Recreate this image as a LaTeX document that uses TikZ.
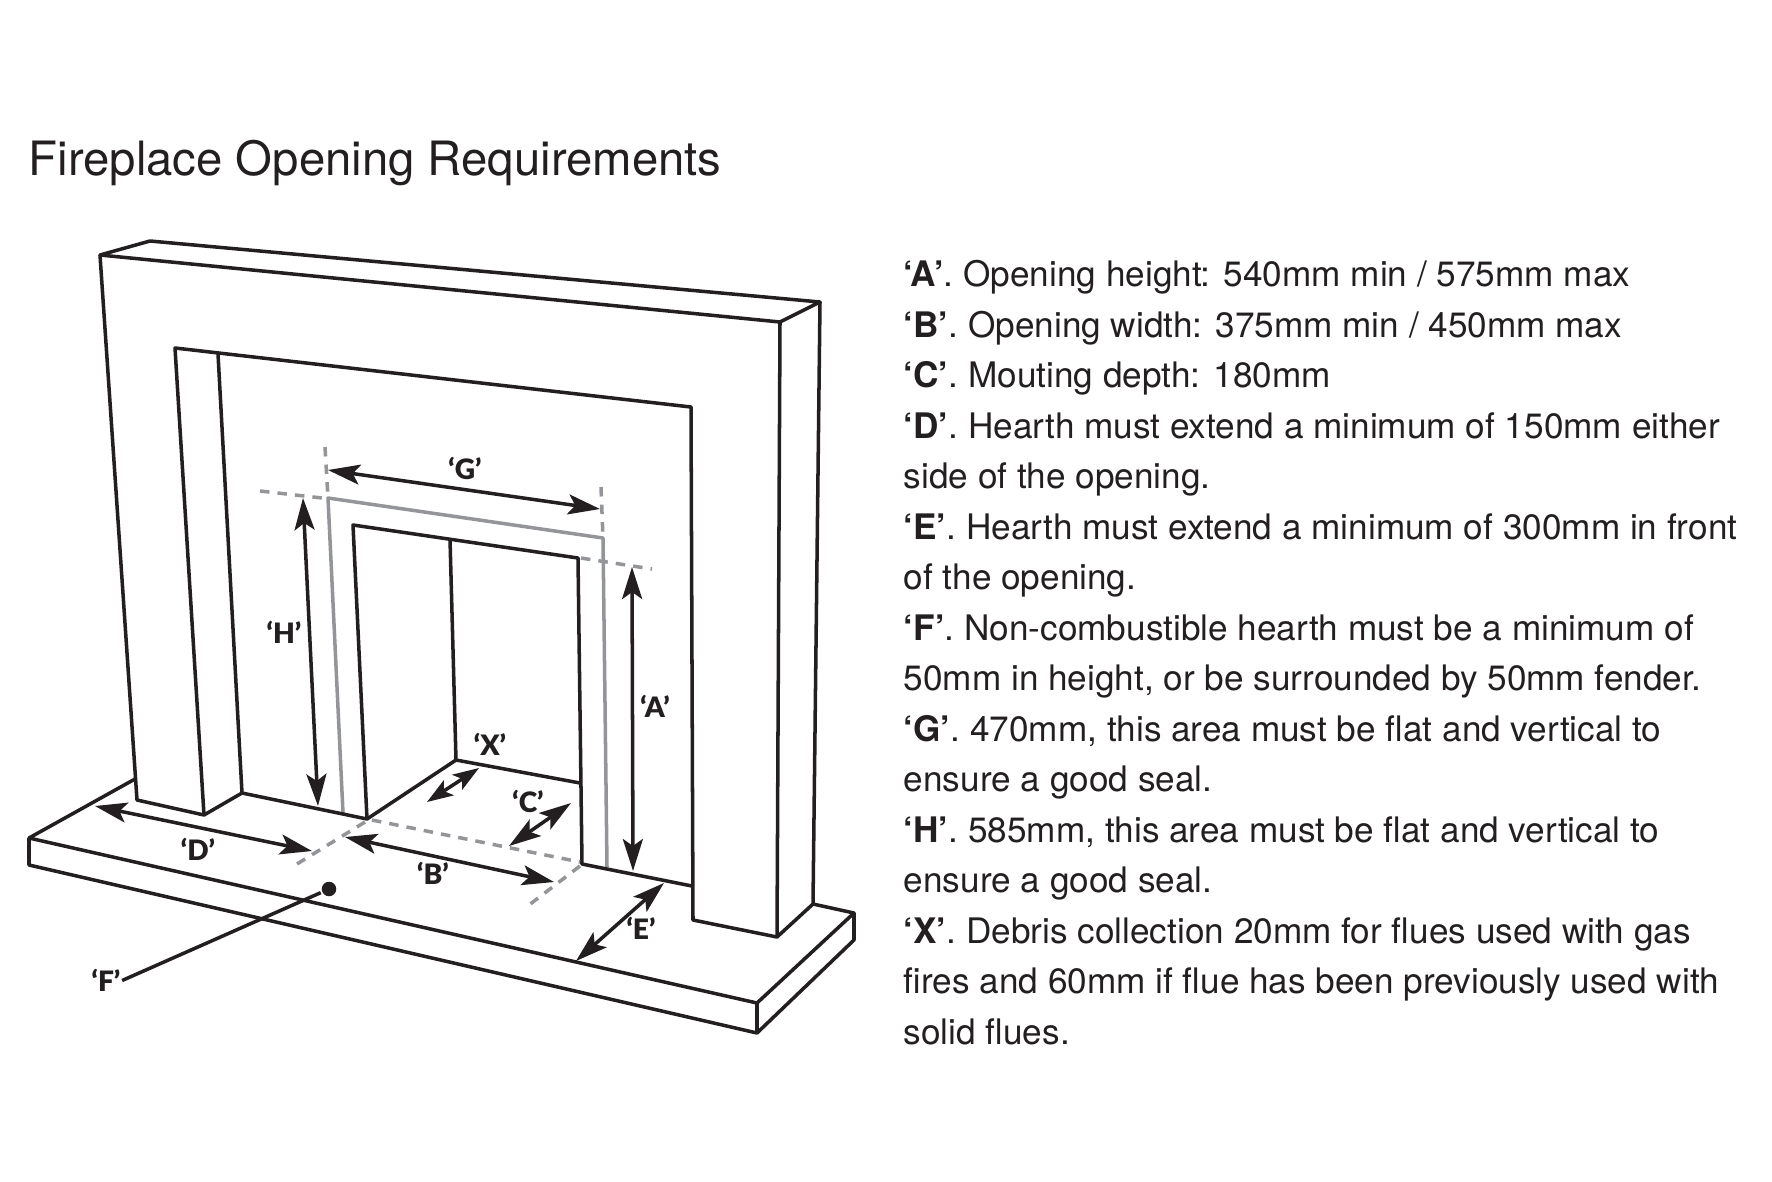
\documentclass[tikz,border=0pt]{standalone}
\usepackage{fontspec}
\usepackage{tikz}
\usetikzlibrary{arrows.meta}
\setmainfont{TeX Gyre Heros}
\newfontfamily\dimfont{Lato Black}
\definecolor{inkblack}{HTML}{231F20}
\definecolor{guidegrey}{HTML}{939598}
\tikzset{
  titletext/.style={anchor=base west,inner sep=0pt,text=inkblack,font=\fontsize{13.45pt}{16pt}\selectfont},
  reqtext/.style={anchor=base west,inner sep=0pt,text=inkblack,font=\fontsize{10pt}{14pt}\selectfont},
  dimtext/.style={inner sep=0pt,text=inkblack,font=\dimfont\fontsize{8pt}{10pt}\selectfont},
  guide/.style={guidegrey},
  guidedash/.style={guidegrey,dash pattern=on 2.7pt off 2.3pt},
  dimline/.style={inkblack,<->},
  shortdim/.style={inkblack,{Stealth[length=0.26cm,width=0.18cm,inset=0.06cm]}-{Stealth[length=0.26cm,width=0.18cm,inset=0.06cm]}},
  leaderdot/.style={circle,fill=inkblack,inner sep=0pt,minimum size=0.145cm}
}

\begin{document}
\begin{tikzpicture}[x=0.01cm,y=-0.01cm,line width=1pt,line join=round,>={Stealth[length=0.32cm,width=0.2cm,inset=0.07cm]}]
\useasboundingbox (0,0) rectangle (1772,1181);

\node[titletext] (title) at (27,175) {Fireplace Opening Requirements};

\draw[inkblack] (100,255) -- (150,241) -- (820,302) -- (780,322) -- cycle;
\draw[inkblack] (100,255) -- (137,800) -- (204,815) -- (175,348) -- (691,407) -- (693,920) -- (777,937) -- (780,322);
\draw[inkblack] (777,937) -- (813,904) -- (820,302);
\draw[inkblack] (204,815) -- (242,793) -- (218,354);

\draw[inkblack] (135,779) -- (29,838) -- (757,1003) -- (854,913) -- (813,904);
\draw[inkblack] (29,838) -- (29,865) -- (757,1033) -- (854,940) -- (854,913);
\draw[inkblack] (757,1003) -- (757,1033);

\draw[guide] (343,813) -- (328,498) -- (603,538) -- (607,867);

\draw[inkblack] (242,793) -- (367,819) -- (353,525) -- (578,558) -- (582,864) -- (692,886);
\draw[inkblack] (450,539) -- (456,760);
\draw[inkblack] (367,819) -- (456,760) -- (580,783);

\draw[guidedash] (325,447) -- (328,498);
\draw[guidedash] (601,487) -- (603,538);
\draw[guidedash] (260,491) -- (322,498);
\draw[guidedash] (581,558) -- (652,569);
\draw[guidedash] (372,820) -- (580,862);
\draw[guidedash] (365,822) -- (297,864);
\draw[guidedash] (580,866) -- (529,905);

\draw[dimline] (328,470) -- (600,509);
\draw[dimline] (303,498) -- (318,806);
\draw[dimline] (632,567) -- (633,871);
\draw[dimline] (95,806) -- (312,851);
\draw[dimline] (345,837) -- (554,882);
\draw[dimline] (509,846) -- (571,803);
\draw[shortdim] (427,802) -- (479,768);
\draw[dimline] (576,961) -- (664,883);

\node[dimtext] (labA) at (655,706.5) {‘A’};
\node[dimtext] (labB) at (433,873.5) {‘B’};
\node[dimtext] (labC) at (528,801.5) {‘C’};
\node[dimtext] (labD) at (198,849.5) {‘D’};
\node[dimtext] (labE) at (641,928.5) {‘E’};
\node[dimtext] (labF) at (106,980.5) {‘F’};
\node[dimtext] (labG) at (465,468.5) {‘G’};
\node[dimtext] (labH) at (284,632) {‘H’};
\node[dimtext] (labX) at (490,744.5) {‘X’};

\node[leaderdot] (fdot) at (329,889) {};
\draw[inkblack] (labF.east) -- (fdot);

\node[reqtext] (lineA) at (902,286.5) {\textbf{‘A’}. Opening height: 540mm min / 575mm max};
\node[reqtext] (lineB) at (902,337) {\textbf{‘B’}. Opening width: 375mm min / 450mm max};
\node[reqtext] (lineC) at (902,387.5) {\textbf{‘C’}. Mouting depth: 180mm};
\node[reqtext] (lineD) at (902,438) {\textbf{‘D’}. Hearth must extend a minimum of 150mm either};
\node[reqtext] (lineDb) at (902,488.5) {side of the opening.};
\node[reqtext] (lineE) at (902,539) {\textbf{‘E’}. Hearth must extend a minimum of 300mm in front};
\node[reqtext] (lineEb) at (902,589.5) {of the opening.};
\node[reqtext] (lineF) at (902,640) {\textbf{‘F’}. Non-combustible hearth must be a minimum of};
\node[reqtext] (lineFb) at (902,690.5) {50mm in height, or be surrounded by 50mm fender.};
\node[reqtext] (lineG) at (902,741) {\textbf{‘G’}. 470mm, this area must be flat and vertical to};
\node[reqtext] (lineGb) at (902,791.5) {ensure a good seal.};
\node[reqtext] (lineH) at (902,842) {\textbf{‘H’}. 585mm, this area must be flat and vertical to};
\node[reqtext] (lineHb) at (902,892.5) {ensure a good seal.};
\node[reqtext] (lineX) at (902,943) {\textbf{‘X’}. Debris collection 20mm for flues used with gas};
\node[reqtext] (lineXb) at (902,993.5) {fires and 60mm if flue has been previously used with};
\node[reqtext] (lineXc) at (902,1044) {solid flues.};

\end{tikzpicture}
\end{document}
